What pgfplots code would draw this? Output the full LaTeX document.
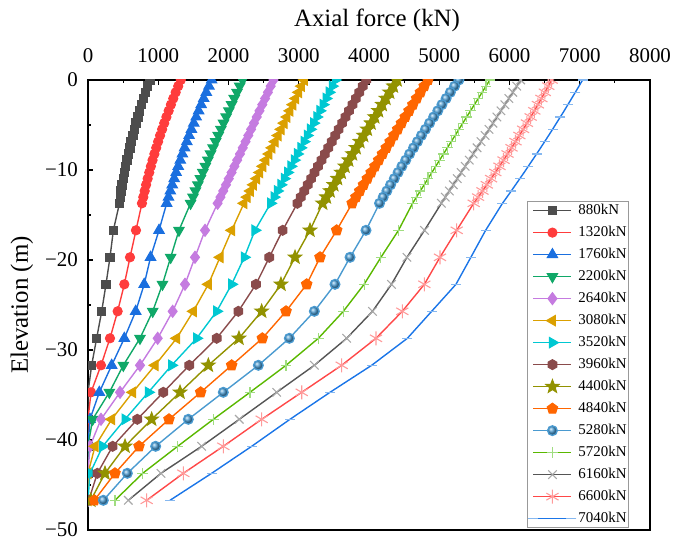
\documentclass[border=0pt]{standalone}
\usepackage{fontspec}
\setmainfont{Liberation Serif}
\usepackage{pgfplots}
\pgfplotsset{compat=1.18}
\usepackage{pgfplotstable}
\usetikzlibrary{plotmarks}

\definecolor{cA}{HTML}{4D4D4D}
\definecolor{cB}{HTML}{FF3C3C}
\definecolor{cC}{HTML}{1A6FDF}
\definecolor{cD}{HTML}{10A868}
\definecolor{cE}{HTML}{C57BE0}
\definecolor{cF}{HTML}{DBA000}
\definecolor{cG}{HTML}{00C8D2}
\definecolor{cH}{HTML}{8A4B4B}
\definecolor{cI}{HTML}{929200}
\definecolor{cJ}{HTML}{FF6600}
\definecolor{cK}{HTML}{4A9AD0}
\definecolor{cL}{HTML}{5AB800}
\definecolor{cLm}{HTML}{A0DD80}
\definecolor{cM}{HTML}{555555}
\definecolor{cMm}{HTML}{A8A8A8}
\definecolor{cN}{HTML}{FF4848}
\definecolor{cNm}{HTML}{FF9A9A}
\definecolor{cO}{HTML}{1A75E8}
\definecolor{cOm}{HTML}{86B8F0}

\pgfdeclareplotmark{hexagon*}{%
 \pgfpathmoveto{\pgfpointpolar{90}{\pgfplotmarksize}}%
 \pgfpathlineto{\pgfpointpolar{150}{\pgfplotmarksize}}%
 \pgfpathlineto{\pgfpointpolar{210}{\pgfplotmarksize}}%
 \pgfpathlineto{\pgfpointpolar{270}{\pgfplotmarksize}}%
 \pgfpathlineto{\pgfpointpolar{330}{\pgfplotmarksize}}%
 \pgfpathlineto{\pgfpointpolar{30}{\pgfplotmarksize}}%
 \pgfpathclose\pgfusepathqfillstroke}
\pgfdeclareplotmark{fstar}{%
 \pgfpathmoveto{\pgfpointpolar{90}{\pgfplotmarksize}}%
 \pgfpathlineto{\pgfpointpolar{126}{0.42\pgfplotmarksize}}%
 \pgfpathlineto{\pgfpointpolar{162}{\pgfplotmarksize}}%
 \pgfpathlineto{\pgfpointpolar{198}{0.42\pgfplotmarksize}}%
 \pgfpathlineto{\pgfpointpolar{234}{\pgfplotmarksize}}%
 \pgfpathlineto{\pgfpointpolar{270}{0.42\pgfplotmarksize}}%
 \pgfpathlineto{\pgfpointpolar{306}{\pgfplotmarksize}}%
 \pgfpathlineto{\pgfpointpolar{342}{0.42\pgfplotmarksize}}%
 \pgfpathlineto{\pgfpointpolar{18}{\pgfplotmarksize}}%
 \pgfpathlineto{\pgfpointpolar{54}{0.42\pgfplotmarksize}}%
 \pgfpathclose\pgfusepathqfillstroke}

\pgfplotstableread{
y s880 s1320 s1760 s2200 s2640 s3080 s3520 s3960 s4400 s4840 s5280 s5720 s6160 s6600 s7040
0 880 1320 1760 2200 2640 3080 3520 3960 4400 4840 5280 5720 6160 6600 7040
-0.685 849 1284 1722 2160 2600 3039 3477 3911 4347 4786 5219 5665 6104 6552 6989
-1.37 819 1248 1684 2121 2561 2998 3433 3862 4294 4732 5158 5610 6047 6503 6937
-2.055 790 1214 1647 2082 2521 2957 3390 3813 4241 4678 5098 5555 5990 6454 6884
-2.74 762 1180 1611 2044 2481 2916 3346 3764 4188 4624 5038 5500 5934 6404 6831
-3.425 735 1148 1575 2005 2441 2874 3301 3715 4135 4570 4979 5445 5878 6353 6778
-4.11 709 1116 1540 1967 2402 2832 3257 3666 4082 4516 4920 5390 5821 6301 6723
-4.795 684 1085 1506 1929 2362 2790 3212 3617 4029 4462 4862 5335 5764 6248 6668
-5.48 660 1055 1472 1892 2322 2748 3166 3568 3976 4408 4804 5280 5708 6194 6613
-6.165 637 1026 1439 1854 2282 2705 3121 3519 3923 4354 4747 5225 5652 6140 6557
-6.85 615 998 1407 1817 2243 2662 3075 3470 3870 4300 4690 5170 5595 6085 6500
-7.535 594 971 1375 1780 2203 2619 3029 3421 3817 4246 4634 5115 5538 6029 6443
-8.22 574 945 1344 1744 2163 2576 2982 3372 3764 4192 4578 5060 5482 5972 6385
-8.905 555 919 1314 1707 2123 2532 2936 3323 3711 4138 4523 5005 5426 5915 6326
-9.59 536 895 1284 1671 2084 2488 2889 3274 3658 4084 4468 4950 5369 5857 6267
-10.275 519 872 1255 1635 2044 2444 2841 3225 3605 4030 4414 4895 5312 5798 6208
-10.96 503 849 1227 1600 2004 2400 2794 3176 3552 3976 4360 4840 5256 5738 6147
-11.645 488 827 1199 1564 1964 2355 2746 3127 3499 3922 4307 4785 5200 5677 6086
-12.33 474 807 1172 1529 1925 2310 2697 3078 3446 3868 4254 4730 5143 5615 6025
-13.015 460 787 1146 1495 1885 2265 2649 3029 3393 3814 4202 4675 5086 5553 5963
-13.7 448 768 1120 1460 1845 2220 2600 2980 3340 3760 4150 4620 5030 5490 5900
-16.7 361 683 1011 1295 1666 2045 2377 2771 3160 3540 3957 4420 4790 5248 5660
-19.7 313 598 890 1177 1523 1879 2225 2581 2947 3303 3730 4170 4540 5010 5450
-22.7 256 517 800 1060 1381 1713 2045 2391 2747 3113 3516 3930 4320 4788 5238
-25.7 195 422 679 921 1205 1499 1832 2140 2472 2819 3222 3635 4050 4474 4892
-28.7 123 313 517 740 992 1262 1547 1832 2149 2482 2866 3279 3682 4100 4546
-31.7 52 185 337 503 740 954 1191 1442 1713 2045 2425 2819 3222 3611 4038
-34.7 0 43 161 304 456 636 859 1072 1310 1604 1926 2306 2686 3042 3445
-37.7 0 0 28 66 185 337 527 702 906 1153 1428 1784 2154 2472 2875
-40.7 0 0 0 0 28 100 209 351 527 726 963 1276 1618 1926 2330
-43.7 0 0 0 0 0 0 28 133 242 384 560 778 1039 1357 1760
-46.7 0 0 0 0 0 0 0 10 40 90 218 384 574 835 1167
}\pile

\begin{document}
\begin{tikzpicture}
\begin{axis}[
  width=562bp, height=450bp, scale only axis,
  xmin=0, xmax=8000, ymin=-50, ymax=0,
  clip marker paths=true,
  axis line style={line width=1.4bp},
  tick align=inside,
  xtick pos=right, xticklabel pos=right, ytick pos=left,
  xtick={0,1000,...,8000},
  xticklabels={0,1000,2000,3000,4000,5000,6000,7000,8000},
  minor x tick num=1,
  ytick={-50,-40,-30,-20,-10,0},
  yticklabels={\textminus50,\textminus40,\textminus30,\textminus20,\textminus10,0},
  minor y tick num=1,
  scaled ticks=false,
  major tick length=5bp, minor tick length=3bp,
  every tick/.style={black, line width=1.1bp},
  xticklabel style={font=\fontsize{21}{24}\selectfont, anchor=base, inner sep=0pt, yshift=17bp},
  yticklabel style={font=\fontsize{21}{24}\selectfont, anchor=east, inner sep=0pt, xshift=-10bp},
  xlabel={Axial force (kN)},
  xlabel style={font=\fontsize{25}{29}\selectfont, at={(axis description cs:0.5,1)}, anchor=base, inner sep=0pt, yshift=53bp, xshift=8bp},
  ylabel={Elevation (m)},
  ylabel style={font=\fontsize{25}{29}\selectfont, at={([xshift=-60bp]axis description cs:0,0.5)}, anchor=base, inner sep=0pt},
  every axis plot/.append style={line width=1.4bp},
  legend style={at={(0.9626,0.0044)}, anchor=south east, draw=black!40, line width=0.8bp, fill=white,
    font=\fontsize{15}{18}\selectfont, inner sep=1bp, row sep=6bp, column sep=1bp,
    nodes={inner sep=1bp, text height=11bp, text depth=3bp}},
  legend cell align=left,
  legend image code/.code={\draw[mark repeat=2,mark phase=2,#1] plot coordinates {(0bp,0bp) (19bp,0bp) (38bp,0bp)};},
]
\addplot[color=cA, mark=square*, mark size=4.3bp, mark options={solid, line width=1bp}] table[x=s880,y=y]{\pile};
\addlegendentry{880kN}
\addplot[color=cB, mark=*, mark size=4.6bp, mark options={solid, line width=1bp}] table[x=s1320,y=y]{\pile};
\addlegendentry{1320kN}
\addplot[color=cC, mark=triangle*, mark size=6bp, mark options={solid, line width=1bp}] table[x=s1760,y=y]{\pile};
\addlegendentry{1760kN}
\addplot[color=cD, mark=triangle*, mark size=6bp, mark options={solid, line width=1bp, rotate=180}] table[x=s2200,y=y]{\pile};
\addlegendentry{2200kN}
\addplot[color=cE, mark=diamond*, mark size=6bp, mark options={solid, line width=1bp}] table[x=s2640,y=y]{\pile};
\addlegendentry{2640kN}
\addplot[color=cF, mark=triangle*, mark size=6bp, mark options={solid, line width=1bp, rotate=90}] table[x=s3080,y=y]{\pile};
\addlegendentry{3080kN}
\addplot[color=cG, mark=triangle*, mark size=6bp, mark options={solid, line width=1bp, rotate=-90}] table[x=s3520,y=y]{\pile};
\addlegendentry{3520kN}
\addplot[color=cH, mark=hexagon*, mark size=5bp, mark options={solid, line width=1bp}] table[x=s3960,y=y]{\pile};
\addlegendentry{3960kN}
\addplot[color=cI, mark=fstar, mark size=7bp, mark options={solid, line width=1bp}] table[x=s4400,y=y]{\pile};
\addlegendentry{4400kN}
\addplot[color=cJ, mark=pentagon*, mark size=5.5bp, mark options={solid, line width=1bp}] table[x=s4840,y=y]{\pile};
\addlegendentry{4840kN}
\addplot[color=cK, mark=ball, mark size=4.8bp, mark options={solid, ball color=cK}] table[x=s5280,y=y]{\pile};
\addlegendentry{5280kN}
\addplot[color=cL, mark=+, mark size=5.2bp, mark options={solid, draw=cLm, line width=1.1bp}] table[x=s5720,y=y]{\pile};
\addlegendentry{5720kN}
\addplot[color=cM, mark=x, mark size=6bp, mark options={solid, draw=cMm, line width=1.1bp}] table[x=s6160,y=y]{\pile};
\addlegendentry{6160kN}
\addplot[color=cN, mark=asterisk, mark size=7bp, mark options={solid, draw=cNm, line width=1.1bp}] table[x=s6600,y=y]{\pile};
\addlegendentry{6600kN}
\addplot[color=cO, mark=-, mark size=5bp, mark options={solid, draw=cOm, line width=1.2bp},
  mark indices={1,3,5,7,9,11,13,15,17,19,21,22,23,24,25,26,27,28,29,30,31,32}] table[x=s7040,y=y]{\pile};
\addlegendentry{7040kN}
\end{axis}
\path (current axis.south west) ++(-88bp,-16bp) coordinate (bl);
\path (current axis.north east) ++(30bp,80bp) coordinate (tr);
\path (bl) rectangle (tr);
\end{tikzpicture}
\end{document}
